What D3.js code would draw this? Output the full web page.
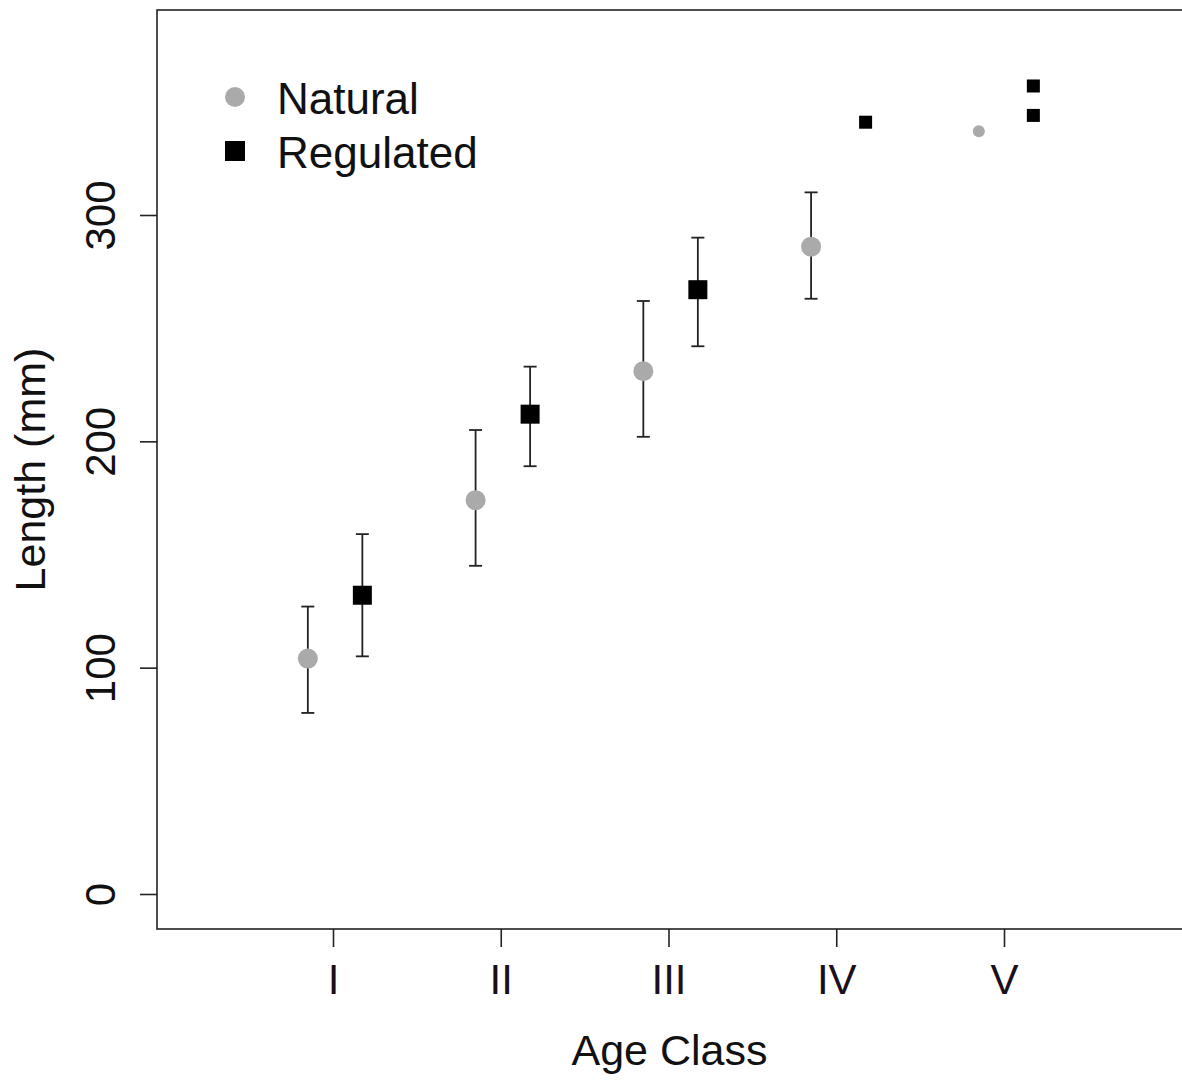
<!DOCTYPE html>
<html>
<head>
<meta charset="utf-8">
<script src="https://cdn.jsdelivr.net/npm/d3@7"></script>
<style>
  body { margin: 0; background: #fff; }
  svg { display: block; font-family: "Liberation Sans", Arial, sans-serif; }
</style>
</head>
<body>
<div id="viz-container"></div>
<script>
var width = 1182, height = 1080;
var box = {left: 157, top: 10, right: 1183, bottom: 929};

// data
var ageClasses = ["I", "II", "III", "IV", "V"];
var yTicks = [0, 100, 200, 300];

// mean +- error for classes with enough fish
var naturalClass = [1, 2, 3, 4];
var naturalMean = [104, 174, 231, 286];
var naturalLow = [80, 145, 202, 263];
var naturalHigh = [127, 205, 262, 310];

var regulatedClass = [1, 2, 3];
var regulatedMean = [132, 212, 267];
var regulatedLow = [105, 189, 242];
var regulatedHigh = [159, 233, 290];

// single fish
var naturalSingleClass = [5];
var naturalSingleValue = [337];
var regulatedSingleClass = [4, 5, 5];
var regulatedSingleValue = [341, 357, 344];

var GRAY = "#aaaaaa";
var NAT_OFFSET = -0.15, REG_OFFSET = 0.175;

var svg = d3.select("#viz-container")
            .append("svg")
            .attr("width", width)
            .attr("height", height);

var x = d3.scaleLinear().domain([1, 5]).range([333, 1004]);
var y = d3.scaleLinear().domain([0, 300]).range([894, 215]);

// plot frame
svg.append("rect")
   .attr("x", box.left).attr("y", box.top)
   .attr("width", box.right - box.left).attr("height", box.bottom - box.top)
   .attr("fill", "none").attr("stroke", "#222").attr("stroke-width", 1.6);

// y axis
var yAxis = svg.append("g")
   .attr("transform", "translate(" + box.left + ",0)")
   .call(d3.axisLeft(y).tickValues(yTicks).tickSize(17).tickPadding(0));
yAxis.select(".domain").remove();
yAxis.selectAll("line").attr("stroke", "#222").attr("stroke-width", 1.6);
yAxis.selectAll("text")
     .attr("x", null).attr("dy", null).attr("y", 0)
     .attr("transform", "translate(" + (115 - box.left) + ",0) rotate(-90)")
     .attr("text-anchor", "middle")
     .attr("font-size", 42)
     .attr("font-family", "Liberation Sans, Arial, sans-serif")
     .attr("fill", "#111");

// x axis
var xAxis = svg.append("g")
   .attr("transform", "translate(0," + box.bottom + ")")
   .call(d3.axisBottom(x).tickValues([1, 2, 3, 4, 5])
          .tickFormat(function(d) { return ageClasses[d - 1]; })
          .tickSize(18).tickPadding(0));
xAxis.select(".domain").remove();
xAxis.selectAll("line").attr("stroke", "#222").attr("stroke-width", 1.6);
xAxis.selectAll("text")
     .attr("y", 65).attr("dy", null)
     .attr("font-size", 42)
     .attr("font-family", "Liberation Sans, Arial, sans-serif")
     .attr("fill", "#1a0f1a");

// axis titles
svg.append("text")
   .attr("x", (box.left + 1182) / 2).attr("y", 1065)
   .attr("text-anchor", "middle").attr("font-size", 43).attr("fill", "#111")
   .text("Age Class");

svg.append("text")
   .attr("transform", "translate(45," + (box.top + box.bottom) / 2 + ") rotate(-90)")
   .attr("text-anchor", "middle").attr("font-size", 43).attr("fill", "#111")
   .text("Length (mm)");

// error bars
function errorBars(cls, lo, hi, off) {
  var g = svg.append("g").attr("stroke", "#222").attr("stroke-width", 1.8);
  cls.forEach(function(c, i) {
    var cx = x(c + off);
    g.append("line").attr("x1", cx).attr("x2", cx).attr("y1", y(lo[i])).attr("y2", y(hi[i]));
    g.append("line").attr("x1", cx - 6.5).attr("x2", cx + 6.5).attr("y1", y(lo[i])).attr("y2", y(lo[i]));
    g.append("line").attr("x1", cx - 6.5).attr("x2", cx + 6.5).attr("y1", y(hi[i])).attr("y2", y(hi[i]));
  });
}
errorBars(naturalClass, naturalLow, naturalHigh, NAT_OFFSET);
errorBars(regulatedClass, regulatedLow, regulatedHigh, REG_OFFSET);

// means
svg.append("g").selectAll("circle")
   .data(naturalClass).enter().append("circle")
   .attr("cx", function(d) { return x(d + NAT_OFFSET); })
   .attr("cy", function(d, i) { return y(naturalMean[i]); })
   .attr("r", 10).attr("fill", GRAY);

svg.append("g").selectAll("rect")
   .data(regulatedClass).enter().append("rect")
   .attr("x", function(d) { return x(d + REG_OFFSET) - 9.5; })
   .attr("y", function(d, i) { return y(regulatedMean[i]) - 9.5; })
   .attr("width", 19).attr("height", 19).attr("fill", "#000");

// single fish, smaller symbols
svg.append("g").selectAll("circle")
   .data(naturalSingleClass).enter().append("circle")
   .attr("cx", function(d) { return x(d + NAT_OFFSET); })
   .attr("cy", function(d, i) { return y(naturalSingleValue[i]); })
   .attr("r", 6).attr("fill", GRAY);

svg.append("g").selectAll("rect")
   .data(regulatedSingleClass).enter().append("rect")
   .attr("x", function(d) { return x(d + REG_OFFSET) - 6.5; })
   .attr("y", function(d, i) { return y(regulatedSingleValue[i]) - 6.5; })
   .attr("width", 13).attr("height", 13).attr("fill", "#000");

// legend
var legend = svg.append("g");
legend.append("circle").attr("cx", 235).attr("cy", 97).attr("r", 10).attr("fill", GRAY);
legend.append("rect").attr("x", 225).attr("y", 141).attr("width", 20).attr("height", 20).attr("fill", "#000");
legend.append("text").attr("x", 277).attr("y", 114).attr("font-size", 44).attr("fill", "#111").text("Natural");
legend.append("text").attr("x", 277).attr("y", 168).attr("font-size", 44).attr("fill", "#111").text("Regulated");
</script>
</body>
</html>
